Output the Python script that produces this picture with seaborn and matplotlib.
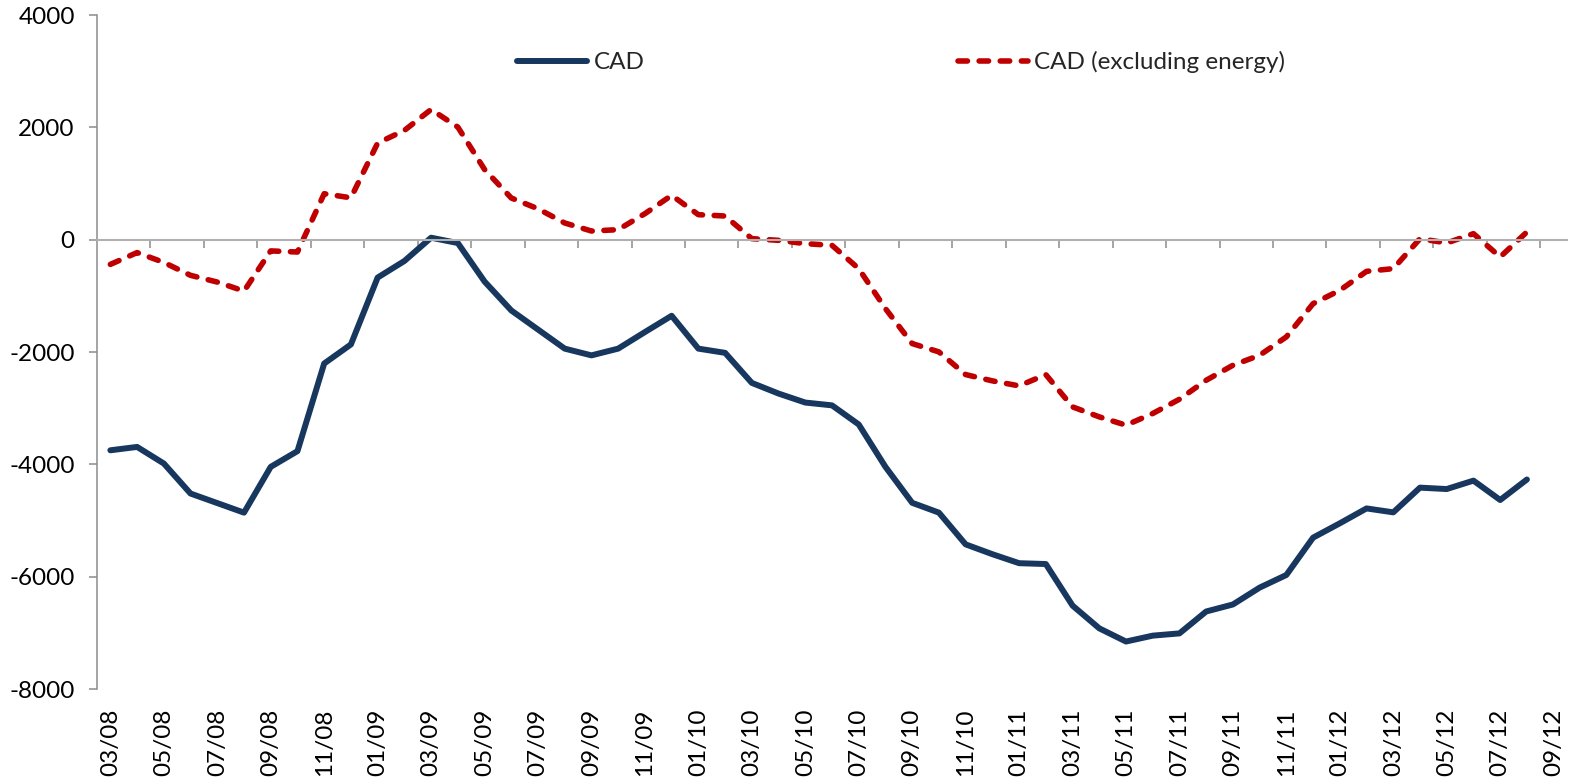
import matplotlib
matplotlib.use("Agg")
import matplotlib.pyplot as plt
import seaborn as sns
import numpy as np
import pandas as pd

# ---- data (monthly, 03/08 .. 08/12) ----
cad = [-3750, -3690, -3985, -4520, -4690, -4860, -4045, -3765, -2205, -1865,
       -675, -380, 35, -60, -745, -1260, -1600, -1940, -2060, -1940,
       -1645, -1355, -1940, -2015, -2550, -2740, -2900, -2950, -3290, -4045,
       -4685, -4860, -5425, -5600, -5760, -5775, -6515, -6920, -7155, -7050,
       -7010, -6620, -6495, -6195, -5970, -5305, -5050, -4785, -4855, -4415,
       -4440, -4290, -4635, -4270]
cad_ex_energy = [-440, -230, -405, -635, -755, -915, -200, -220, 818, 745,
                 1720, 1945, 2318, 2005, 1250, 742, 550, 297, 154, 178,
                 463, 789, 445, 421, 18, -12, -71, -101, -516, -1228,
                 -1850, -1998, -2402, -2514, -2603, -2402, -2977, -3155, -3303, -3095,
                 -2841, -2503, -2236, -2058, -1731, -1139, -902, -564, -516, 18,
                 -59, 107, -308, 137]
tick_labels = ['03/08', '05/08', '07/08', '09/08', '11/08', '01/09', '03/09',
               '05/09', '07/09', '09/09', '11/09', '01/10', '03/10', '05/10',
               '07/10', '09/10', '11/10', '01/11', '03/11', '05/11', '07/11',
               '09/11', '11/11', '01/12', '03/12', '05/12', '07/12', '09/12']
y_ticks = [4000, 2000, 0, -2000, -4000, -6000, -8000]
series_names = ['CAD', 'CAD (excluding energy)']

n_cat = 2 * len(tick_labels) - 1          # 55 monthly categories (03/08..09/12)
idx = np.arange(len(cad))

sns.set_theme(style="white")
plt.rcParams['font.family'] = ['Lato', 'DejaVu Sans']

fig = plt.figure(figsize=(15.79, 7.78), dpi=100)
ax = fig.add_axes([97 / 1579, 1 - 689 / 778, 1470 / 1579, 674 / 778])

grey = '#8c8c8c'
fs = 17.5
sns.lineplot(x=idx, y=cad, ax=ax, color='#17375E', linewidth=4.3,
             solid_capstyle='round', solid_joinstyle='round', label=series_names[0])
sns.lineplot(x=idx, y=cad_ex_energy, ax=ax, color='#C00000', linewidth=4.0,
             linestyle=(0, (1.7, 2.1)), dash_capstyle='round', label=series_names[1])

ax.set_xlim(-0.5, n_cat - 0.5)
ax.set_ylim(min(y_ticks), max(y_ticks))

# y axis
ax.set_yticks(y_ticks)
ax.set_yticklabels([str(v) for v in y_ticks], fontsize=fs)
ax.tick_params(axis='y', direction='out', length=6, width=1.1, color=grey,
               pad=10, left=True, labelcolor='black')
for s in ['top', 'right']:
    ax.spines[s].set_visible(False)
ax.spines['left'].set_color(grey)
ax.spines['left'].set_linewidth(1.1)

# x axis line at zero with boundary ticks every two months
ax.spines['bottom'].set_position(('data', 0))
ax.spines['bottom'].set_color('#b0b0b0')
ax.spines['bottom'].set_linewidth(1.5)
bounds = np.arange(1.5, n_cat - 1, 2)
ax.set_xticks(bounds)
ax.set_xticklabels([''] * len(bounds))
ax.tick_params(axis='x', direction='out', length=6, width=1.1, color=grey,
               bottom=True)
ax.set_xlabel('')
ax.set_ylabel('')

# category labels at the bottom
sec = ax.secondary_xaxis(0.0)
sec.set_xticks(np.arange(0, n_cat, 2))
sec.set_xticklabels(tick_labels, rotation=90, fontsize=fs)
sec.tick_params(axis='x', length=0, pad=14, labelcolor='black')
sec.spines['bottom'].set_visible(False)

ax.legend(loc='center', bbox_to_anchor=(0.547, 0.93), ncol=2, frameon=False,
          fontsize=fs, handlelength=2.9, handletextpad=0.25, columnspacing=12.9)

ax.grid(False)
fig.savefig('out.png', dpi=100)
